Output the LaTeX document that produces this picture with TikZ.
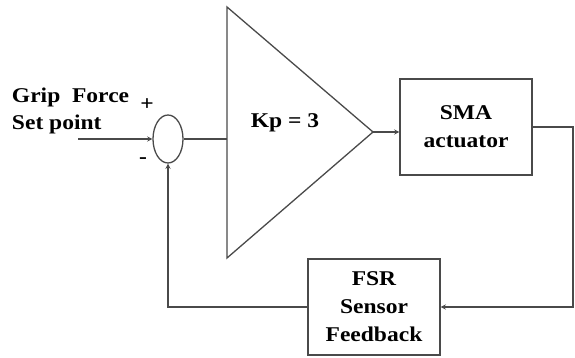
\documentclass[tikz,border=0pt]{standalone}
\usepackage{fontspec}
\setmainfont{Liberation Serif}[FakeStretch=1.12]
\usetikzlibrary{shapes.geometric}
\definecolor{wire}{HTML}{4A4A4A}

\begin{document}
\begin{tikzpicture}[x=1pt, y=-1pt, line width=1.3pt, >=stealth,
  every node/.style={font=\bfseries\fontsize{21}{28}\selectfont, text=black},
  block/.style={draw=wire, minimum width=132pt, minimum height=96pt, align=center, inner sep=0pt}]
      \useasboundingbox (0,0) rectangle (575,358);
      \node[draw=wire, ellipse, minimum width=30pt, minimum height=48pt, inner sep=0pt] (sum) at (168,139) {};
      \node[block] (sma) at (466,127) {SMA\\actuator};
      \node[block] (fsr) at (374,307) {FSR\\Sensor\\Feedback};
      \coordinate (gin) at (227,139);
      \coordinate (gout) at (373,132);
      \draw[wire] (227,7) -- (gout) -- (227,258) -- cycle;
      \node (kp) at (285,123) {Kp = 3};
      \node[anchor=base west] (grip) at (8,103) {Grip\ \ Force};
      \node[anchor=base west] (set) at (8,130) {Set point};
      \node (plus) at (147,105) {+};
      \node (minus) at (143,161) {-};
      \coordinate (in) at (78,139);
      \coordinate (corner) at (573,127);
      \draw[wire,->] (in) -- (sum.west);
      \draw[wire] (sum.east) -- (gin);
      \draw[wire,->] (gout) -- (gout -| sma.west);
      \draw[wire,->] (sma.east) -- (corner) |- (fsr.east);
      \draw[wire,->] (fsr.west) -| (sum.south);
\end{tikzpicture}
\end{document}
